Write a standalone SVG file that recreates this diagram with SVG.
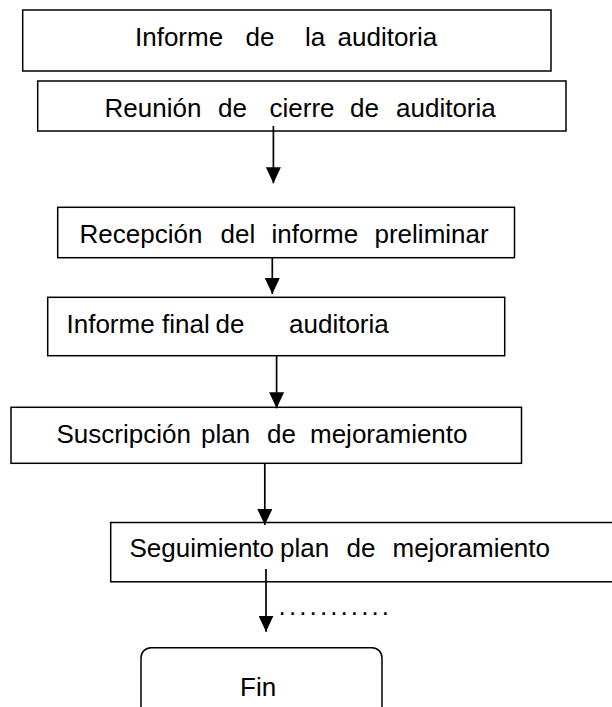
<svg xmlns="http://www.w3.org/2000/svg" width="612" height="707" viewBox="0 0 612 707">
<style>
.box{fill:#fff;stroke:#000;stroke-width:1.5}
.lbl{font-family:"Liberation Sans",Arial,sans-serif;font-size:26px;fill:#000}
.conn{stroke:#000;stroke-width:1.7;fill:none}
</style>
<defs>
<marker id="ah" markerUnits="userSpaceOnUse" viewBox="0 0 16 15" refX="16" refY="7.5" markerWidth="16" markerHeight="15" orient="auto">
<path d="M0,0 L16,7.5 L0,15 z" fill="#000"/>
</marker>
</defs>
<rect width="612" height="707" fill="#fff"/>
<g id="n1">
<rect class="box" x="22.7" y="10" width="528.3" height="61"/>
<text class="lbl" y="46"><tspan x="135">Informe</tspan><tspan x="245.5">de</tspan><tspan x="305">la</tspan><tspan x="337.5">auditoria</tspan></text>
</g>
<g id="n2">
<rect class="box" x="37.7" y="81" width="528.3" height="50"/>
<text class="lbl" y="116.7"><tspan x="104.5">Reunión</tspan><tspan x="218">de</tspan><tspan x="269.5">cierre</tspan><tspan x="350">de</tspan><tspan x="396">auditoria</tspan></text>
</g>
<g id="n3">
<rect class="box" x="57.7" y="207.3" width="456.8" height="50.4"/>
<text class="lbl" y="243.3"><tspan x="79.5">Recepción</tspan><tspan x="220.5">del</tspan><tspan x="271.5">informe</tspan><tspan x="374.5">preliminar</tspan></text>
</g>
<g id="n4">
<rect class="box" x="47.7" y="297.3" width="457" height="58.4"/>
<text class="lbl" y="332.7"><tspan x="66.5">Informe</tspan><tspan x="162">final</tspan><tspan x="215.5">de</tspan><tspan x="289">auditoria</tspan></text>
</g>
<g id="n5">
<rect class="box" x="11" y="407.3" width="510.5" height="56"/>
<text class="lbl" y="442.7"><tspan x="56.5">Suscripción</tspan><tspan x="201">plan</tspan><tspan x="267">de</tspan><tspan x="310">mejoramiento</tspan></text>
</g>
<g id="n6">
<rect class="box" x="110.7" y="522.5" width="520" height="59.3"/>
<text class="lbl" y="557.3"><tspan x="129.5">Seguimiento</tspan><tspan x="280">plan</tspan><tspan x="346.5">de</tspan><tspan x="392.5">mejoramiento</tspan></text>
</g>
<g id="n7">
<rect class="box" x="141" y="647.7" width="241" height="80" rx="10" ry="10"/>
<text class="lbl" x="240" y="696">Fin</text>
</g>
<g id="connectors">
<line class="conn" x1="273.4" y1="126" x2="273.4" y2="183.3" marker-end="url(#ah)"/>
<line class="conn" x1="272.3" y1="257.7" x2="272.3" y2="294" marker-end="url(#ah)"/>
<line class="conn" x1="276.6" y1="355.7" x2="276.6" y2="408.3" marker-end="url(#ah)"/>
<line class="conn" x1="264.8" y1="463.3" x2="264.8" y2="525" marker-end="url(#ah)"/>
<line class="conn" x1="266" y1="569" x2="266" y2="631.7" marker-end="url(#ah)"/>
</g>
<text class="lbl" x="278.6" y="615" letter-spacing="3.1">...........</text>
</svg>
